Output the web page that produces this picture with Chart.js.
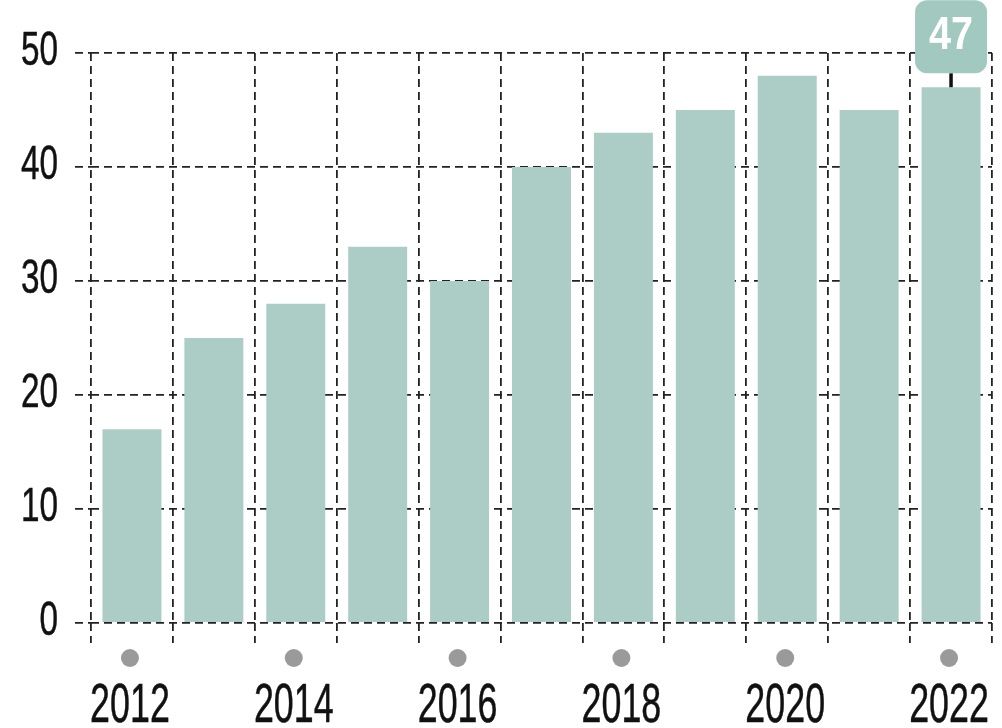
<!DOCTYPE html>
<html>
<head>
<meta charset="utf-8">
<script src="https://cdn.jsdelivr.net/npm/chart.js@4/dist/chart.umd.min.js"></script>
<style>
  html, body { margin: 0; padding: 0; background: #fff; }
  #wrap { width: 1002px; height: 728px; }
</style>
</head>
<body>
<div id="wrap"><canvas id="myChart" width="1002" height="728"></canvas></div>
<script>
var years = ["2012", "2013", "2014", "2015", "2016", "2017", "2018", "2019", "2020", "2021", "2022"];
var shares = [17, 25, 28, 33, 30, 40, 43, 45, 48, 45, 47];
var yTicks = [0, 10, 20, 30, 40, 50];
var highlightIndex = 10;

var fontFamily = "'Liberation Sans', Arial, sans-serif";
var barColor = "#abcdc5";

// the original font is a narrow one, so squeeze it a bit
function narrowText(ctx, text, x, y, size, squeeze, align, weight, thick) {
  ctx.save();
  ctx.translate(x, y);
  ctx.scale(squeeze, 1);
  ctx.font = (weight || "normal") + " " + size + "px " + fontFamily;
  ctx.textAlign = align;
  ctx.textBaseline = "middle";
  ctx.fillText(text, 0, 0);
  if (thick) {
    ctx.strokeStyle = ctx.fillStyle;
    ctx.lineWidth = thick;
    ctx.strokeText(text, 0, 0);
  }
  ctx.restore();
}

var labelsPlugin = {
  id: 'labels',
  afterDraw: function(chart) {
    var ctx = chart.ctx;
    var xScale = chart.scales.x;
    var yScale = chart.scales.y;
    ctx.save();
    ctx.fillStyle = "#111";
    yTicks.forEach(function(v) {
      narrowText(ctx, String(v), 58, yScale.getPixelForValue(v) - 2, 49, 0.68, "right", "normal", 0.5);
    });
    for (var i = 0; i < years.length; i += 2) {
      var x = xScale.getPixelForValue(i) - 2;
      narrowText(ctx, years[i], x, chart.chartArea.bottom + 84, 56, 0.64, "center", "normal", 0.5);
      // grey dot under the year
      ctx.fillStyle = "#9a9a9a";
      ctx.beginPath();
      ctx.arc(x, chart.chartArea.bottom + 35, 9, 0, Math.PI * 2);
      ctx.fill();
      ctx.fillStyle = "#111";
    }
    ctx.restore();
  }
};

// rounded label box above the last bar
var calloutPlugin = {
  id: 'callout',
  afterDatasetsDraw: function(chart) {
    var ctx = chart.ctx;
    var bar = chart.getDatasetMeta(0).data[highlightIndex];
    var w = 72, h = 73;
    var bottom = bar.y - 14;
    var left = bar.x - w / 2;
    ctx.save();
    ctx.strokeStyle = "#111";
    ctx.lineWidth = 3.5;
    ctx.beginPath();
    ctx.moveTo(bar.x, bottom);
    ctx.lineTo(bar.x, bar.y);
    ctx.stroke();
    ctx.fillStyle = "#a2c9bf";
    ctx.beginPath();
    ctx.roundRect(left, bottom - h, w, h, 12);
    ctx.fill();
    ctx.fillStyle = "#fff";
    narrowText(ctx, String(shares[highlightIndex]), bar.x, bottom - h / 2, 46, 0.86, "center", "bold");
    ctx.restore();
  }
};

var data = {
  labels: years,
  datasets: [{
    data: shares,
    backgroundColor: barColor,
    borderWidth: 0,
    barPercentage: 0.72,
    categoryPercentage: 1.0
  }]
};

var options = {
  responsive: false,
  animation: false,
  layout: { padding: { top: 53, right: 10, left: 75, bottom: 85 } },
  plugins: {
    legend: { display: false },
    tooltip: { enabled: false }
  },
  scales: {
    x: {
      border: { display: false, dash: [8, 5] },
      grid: {
        offset: true,
        color: "#222",
        lineWidth: 1.8,
        tickBorderDash: [8, 5],
        tickLength: 20,
        tickColor: "#222",
        tickWidth: 1.8
      },
      ticks: { display: false }
    },
    y: {
      min: 0,
      max: 50,
      border: { display: false, dash: [8, 5] },
      afterBuildTicks: function(axis) {
        axis.ticks = yTicks.map(function(v) { return { value: v }; });
      },
      grid: {
        color: "#222",
        lineWidth: 1.8,
        tickBorderDash: [8, 5],
        tickLength: 16,
        tickColor: "#222",
        tickWidth: 1.8
      },
      ticks: { display: false }
    }
  }
};

var ctx = document.getElementById("myChart");
var myBarChart = new Chart(ctx, {
  type: 'bar',
  data: data,
  options: options,
  plugins: [labelsPlugin, calloutPlugin]
});
</script>
</body>
</html>
